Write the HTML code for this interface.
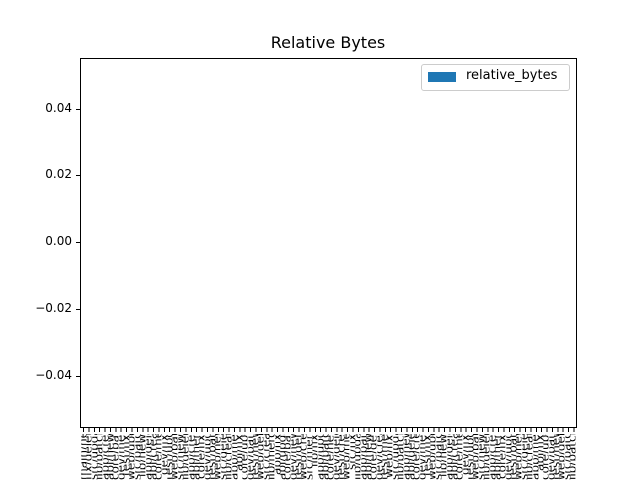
<!DOCTYPE html>
<html style="overflow:hidden;width:640px;height:480px"><head><meta charset="utf-8"><style>
html,body{margin:0;width:640px;height:480px;overflow:hidden;}
body{background:#fff;position:relative;font-family:"DejaVu Sans","Liberation Sans",sans-serif;}
.ax{position:absolute;left:80px;top:58px;width:495px;height:368px;border:1px solid #000;}
.t{position:absolute;font-size:16px;left:0;width:656px;text-align:center;top:33px;}
.yl{position:absolute;font-size:12px;right:568px;text-align:right;}
.yt{position:absolute;left:76px;width:4px;height:1px;background:#000;}
.ticks{position:absolute;left:81px;top:428px;width:496px;height:4px;background:repeating-linear-gradient(90deg,transparent 0,transparent 2px,#000 2px,#000 3px,transparent 3px,transparent 5.39px);}
.clip{position:absolute;left:0;top:0;width:640px;height:480px;overflow:hidden;}
.labs{position:absolute;left:81px;top:434px;width:496px;height:46px;display:flex;overflow:hidden;}
.labs span{writing-mode:vertical-rl;transform:rotate(180deg);text-align:end;font-size:12px;width:5.39px;height:46px;line-height:5.39px;white-space:nowrap;flex:none;overflow:hidden;}
.leg{position:absolute;left:421px;top:64px;width:147px;height:25px;border:1px solid #ccc;border-radius:3px;background:#fff;}
</style></head><body><div class="clip">
<div class="t">Relative Bytes</div>
<div class="ax"></div>
<div class="yt" style="top:109px"></div><div class="yl" style="top:101px">0.04</div>
<div class="yt" style="top:175px"></div><div class="yl" style="top:167px">0.02</div>
<div class="yt" style="top:242px"></div><div class="yl" style="top:234px">0.00</div>
<div class="yt" style="top:309px"></div><div class="yl" style="top:301px">−0.02</div>
<div class="yt" style="top:376px"></div><div class="yl" style="top:368px">−0.04</div>
<div class="leg"><div style="position:absolute;left:6px;top:7px;width:28px;height:10px;background:#1f77b4"></div><div style="position:absolute;left:44px;top:3px;font-size:13px">relative_bytes</div></div>
<div class="ticks"></div>
<div class="labs">
<span>main/new</span><span>fix/delete</span><span>src/update</span><span>lib/patch</span><span>app/create</span><span>api/new</span><span>core/patch</span><span>dev/merge</span><span>test/fix</span><span>web/update</span><span>src/patch</span><span>lib/new</span><span>app/delete</span><span>api/create</span><span>core/merge</span><span>dev/fix</span><span>test/update</span><span>web/patch</span><span>src/new</span><span>lib/delete</span><span>app/create</span><span>api/merge</span><span>core/fix</span><span>dev/update</span><span>test/patch</span><span>web/new</span><span>src/delete</span><span>lib/create</span><span>app/merge</span><span>api/fix</span><span>core/update</span><span>dev/patch</span><span>test/new</span><span>web/delete</span><span>src/create</span><span>lib/merge</span><span>app/fix</span><span>api/update</span><span>core/patch</span><span>dev/new</span><span>test/delete</span><span>web/create</span><span>src/merge</span><span>lib/fix</span><span>app/update</span><span>api/patch</span><span>core/new</span><span>dev/delete</span><span>test/create</span><span>web/merge</span><span>src/fix</span><span>lib/update</span><span>app/patch</span><span>api/new</span><span>core/delete</span><span>dev/create</span><span>test/merge</span><span>web/fix</span><span>src/update</span><span>lib/patch</span><span>app/new</span><span>api/delete</span><span>core/create</span><span>dev/merge</span><span>test/fix</span><span>web/update</span><span>src/patch</span><span>lib/new</span><span>app/delete</span><span>api/create</span><span>core/merge</span><span>dev/fix</span><span>test/update</span><span>web/patch</span><span>src/new</span><span>lib/delete</span><span>app/create</span><span>api/merge</span><span>core/fix</span><span>dev/update</span><span>test/patch</span><span>web/new</span><span>src/delete</span><span>lib/create</span><span>app/merge</span><span>api/fix</span><span>core/update</span><span>dev/patch</span><span>test/new</span><span>web/delete</span><span>src/patch</span><span>lib/patch</span>
</div>
</div></body></html>
